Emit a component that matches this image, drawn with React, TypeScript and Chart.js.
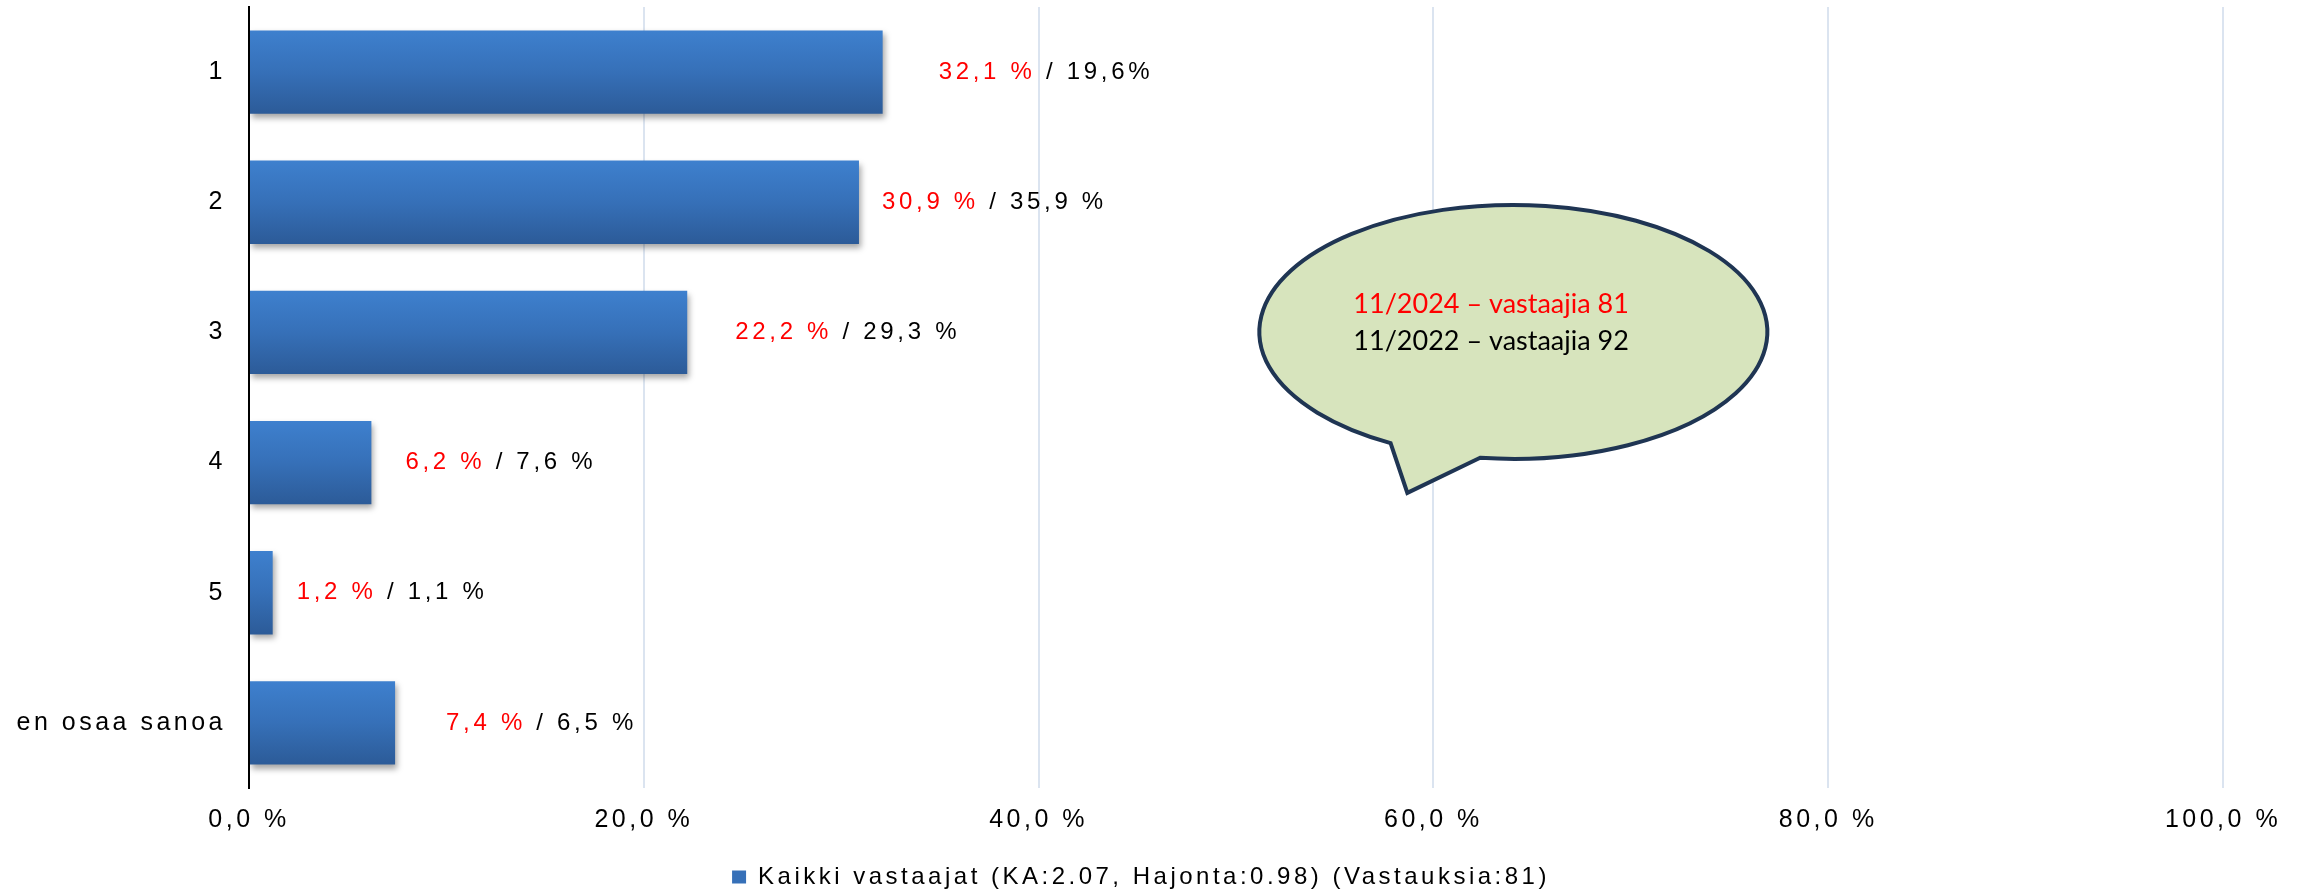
import React, { useEffect, useRef } from 'react';
import { Chart, registerables } from 'chart.js';

Chart.register(...registerables);

// ---- data ----
const categories = ['1', '2', '3', '4', '5', 'en osaa sanoa'];
const values2024 = [32.1, 30.9, 22.2, 6.2, 1.2, 7.4];
const labels2024 = ['32,1 %', '30,9 %', '22,2 %', '6,2 %', '1,2 %', '7,4 %'];
const labels2022 = ['19,6%', '35,9 %', '29,3 %', '7,6 %', '1,1 %', '6,5 %'];
const xTickValues = [0, 20, 40, 60, 80, 100];
const legendLabel = 'Kaikki vastaajat (KA:2.07, Hajonta:0.98) (Vastauksia:81)';
const bubbleLines = ['11/2024 – vastaajia 81', '11/2022 – vastaajia 92'];
const bubbleColors = ['#ff0000', '#000000'];

// ---- layout (not data) ----
const labelGaps = [56, 23, 48, 34, 24, 51];
const FONT = "'Liberation Sans', Arial, sans-serif";
const AXIS_SPACING = '3.5px';

const fmtTick = (v: number) => v.toFixed(1).replace('.', ',') + ' %';

export default function App() {
  const ref = useRef<HTMLCanvasElement | null>(null);

  useEffect(() => {
    document.body.style.margin = '0';
    const canvas = ref.current;
    if (!canvas) return;

    const spacingPlugin = {
      id: 'spacing',
      beforeLayout(chart: any) {
        chart.ctx.letterSpacing = AXIS_SPACING;
      },
      beforeDraw(chart: any) {
        chart.ctx.letterSpacing = AXIS_SPACING;
      },
    };

    const shadowPlugin = {
      id: 'barShadow',
      beforeDatasetsDraw(chart: any) {
        const ctx = chart.ctx;
        ctx.save();
        ctx.shadowColor = 'rgba(0,0,0,0.35)';
        ctx.shadowBlur = 6;
        ctx.shadowOffsetX = 2;
        ctx.shadowOffsetY = 4;
      },
      afterDatasetsDraw(chart: any) {
        chart.ctx.restore();
      },
    };

    const overlayPlugin = {
      id: 'overlay',
      afterDraw(chart: any) {
        const ctx = chart.ctx;
        const meta = chart.getDatasetMeta(0);
        // value labels
        ctx.save();
        ctx.letterSpacing = '3.7px';
        ctx.font = `24px ${FONT}`;
        ctx.textBaseline = 'middle';
        ctx.textAlign = 'left';
        meta.data.forEach((bar: any, i: number) => {
          let x = bar.x + labelGaps[i];
          const y = bar.y;
          ctx.fillStyle = '#ff0000';
          ctx.fillText(labels2024[i], x, y);
          x += ctx.measureText(labels2024[i] + ' ').width;
          ctx.fillStyle = '#000000';
          ctx.fillText('/ ' + labels2022[i], x, y);
        });
        ctx.restore();

        // speech bubble
        const xs = chart.scales.x;
        const area = chart.chartArea;
        const cx = xs.getPixelForValue(64.05);
        const cy = area.top + (area.bottom - area.top) * 0.416;
        const rx = 254;
        const ry = 127;
        const a1 = (118.9 * Math.PI) / 180;
        const a2 = ((360 + 97.5) * Math.PI) / 180;
        const tipX = cx - 106;
        const tipY = cy + 161;
        ctx.save();
        ctx.beginPath();
        ctx.ellipse(cx, cy, rx, ry, 0, a1, a2, false);
        ctx.lineTo(tipX, tipY);
        ctx.closePath();
        ctx.fillStyle = '#d7e4bd';
        ctx.fill();
        ctx.lineWidth = 4;
        ctx.lineJoin = 'miter';
        ctx.strokeStyle = '#1f3553';
        ctx.stroke();

        ctx.letterSpacing = '0px';
        ctx.font = `27px Lato, 'Open Sans', sans-serif`;
        ctx.textAlign = 'left';
        ctx.textBaseline = 'alphabetic';
        bubbleLines.forEach((t, i) => {
          ctx.fillStyle = bubbleColors[i];
          ctx.fillText(t, cx - 160, cy - 19 + i * 37);
        });
        ctx.restore();
      },
    };

    const chart = new Chart(canvas, {
      type: 'bar',
      data: {
        labels: categories,
        datasets: [
          {
            label: legendLabel,
            data: values2024,
            barPercentage: 0.64,
            categoryPercentage: 1,
            borderWidth: 0,
            backgroundColor: (c: any) => {
              const chart = c.chart;
              const ys = chart.scales && chart.scales.y;
              if (!ys || c.dataIndex == null || c.type !== 'data') return '#3670b8';
              const center = ys.getPixelForValue(c.dataIndex);
              const band = Math.abs(ys.getPixelForValue(1) - ys.getPixelForValue(0));
              const half = (band * 0.64) / 2;
              if (!isFinite(center) || !isFinite(half) || half <= 0) return '#3670b8';
              const g = chart.ctx.createLinearGradient(0, center - half, 0, center + half);
              g.addColorStop(0, '#3e80ce');
              g.addColorStop(0.5, '#3670b8');
              g.addColorStop(1, '#2c5b98');
              return g;
            },
          },
        ],
      },
      options: {
        indexAxis: 'y',
        animation: false,
        responsive: true,
        maintainAspectRatio: false,
        layout: { padding: { top: 7, right: 26, bottom: -10, left: 0 } },
        scales: {
          x: {
            min: 0,
            max: 100,
            afterBuildTicks: (s: any) => {
              s.ticks = xTickValues.map((v) => ({ value: v }));
            },
            afterFit: (s: any) => {
              s.height = 67;
              s.paddingRight = 85;
              s.paddingLeft = 0;
            },
            ticks: {
              padding: 17,
              color: '#000',
              font: { family: FONT, size: 25 },
              callback: (v: any) => fmtTick(Number(v)),
              maxRotation: 0,
            },
            grid: { color: '#dbe4f0', lineWidth: 2, drawTicks: false },
            border: { display: false },
          },
          y: {
            afterFit: (s: any) => {
              s.width = 249;
              s.paddingTop = 0;
              s.paddingBottom = 0;
            },
            ticks: {
              padding: 23,
              color: '#000',
              font: { family: FONT, size: 25 },
            },
            grid: { display: false, drawTicks: false },
            border: { display: true, color: '#000', width: 2 },
          },
        },
        plugins: {
          legend: {
            position: 'bottom',
            labels: {
              color: '#000',
              font: { family: FONT, size: 24 },
              boxWidth: 14,
              boxHeight: 13,
              padding: 10,
              generateLabels: () => [
                {
                  text: legendLabel,
                  fillStyle: '#3670b8',
                  strokeStyle: '#3670b8',
                  lineWidth: 0,
                  hidden: false,
                  datasetIndex: 0,
                },
              ],
            },
          },
          tooltip: { enabled: false },
        },
      },
      plugins: [spacingPlugin, shadowPlugin, overlayPlugin],
    } as any);

    return () => chart.destroy();
  }, []);

  return (
    <div style={{ width: '2308px', height: '889px', position: 'relative' }}>
      <canvas ref={ref} />
    </div>
  );
}
